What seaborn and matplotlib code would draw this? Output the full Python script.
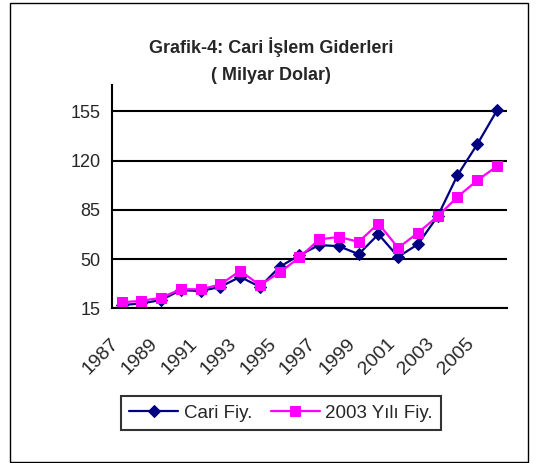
import pandas as pd
import matplotlib
matplotlib.use("Agg")
import matplotlib.pyplot as plt
import matplotlib.transforms as mtransforms
import seaborn as sns
from matplotlib.patches import Rectangle

years = list(range(1987, 2007))
cari = [17.3, 18.5, 20.9, 28.0, 27.3, 30.3, 37.4, 30.3, 44.5, 52.8,
        60.0, 59.2, 53.5, 67.7, 51.6, 60.6, 80.5, 109.6, 131.6, 155.7]
sabit = [19.3, 20.4, 22.5, 28.7, 28.5, 32.0, 41.7, 31.5, 40.5, 51.2,
         64.0, 65.8, 62.3, 75.3, 58.0, 68.7, 80.5, 94.2, 106.0, 116.0]
y_ticks = [15, 50, 85, 120, 155]
series_names = ["Cari Fiy.", "2003 Yılı Fiy."]

df = pd.DataFrame({"yil": years, "idx": range(len(years)),
                   series_names[0]: cari, series_names[1]: sabit})
long_df = df.melt(id_vars=["yil", "idx"], var_name="seri", value_name="deger")

sns.set_style("white")
plt.rcParams['font.family'] = ['Liberation Sans', 'DejaVu Sans']

fig = plt.figure(figsize=(5.45, 4.63), dpi=100)
ax = fig.add_axes([0.205, 0.334, 0.725, 0.483])

sns.lineplot(data=long_df[long_df.seri == series_names[0]], x="idx", y="deger",
             color="#000080", marker="D", markersize=6, linewidth=1.6,
             markeredgecolor="#000080", label=series_names[0], ax=ax)
sns.lineplot(data=long_df[long_df.seri == series_names[1]], x="idx", y="deger",
             color="#FF00FF", marker="s", markersize=7, linewidth=1.6,
             markeredgecolor="#FF00FF", label=series_names[1], ax=ax)

ax.set_xlim(-0.5, len(years) - 0.5)
ax.set_ylim(15, 174)
ax.set_yticks(y_ticks)
ax.set_yticklabels([str(v) for v in y_ticks], fontsize=13)
ax.yaxis.grid(True, color="black", linewidth=1.5)
ax.set_axisbelow(True)

# category boundaries get the tick marks, labels sit at every other category
ax.set_xticks([i - 0.5 for i in range(len(years) + 1)])
ax.set_xticklabels([])
ax.set_xticks(list(range(0, len(years), 2)), minor=True)
ax.set_xticklabels([str(years[i]) for i in range(0, len(years), 2)], minor=True,
                   rotation=45, ha="right", va="top", rotation_mode="anchor",
                   fontsize=14)
ax.tick_params(axis="x", which="major", direction="out", length=7, width=1.5, color="black")
ax.tick_params(axis="x", which="minor", length=0, pad=13)
ax.tick_params(axis="y", direction="out", length=5, width=1.5, color="black", pad=3)
shift = mtransforms.ScaledTranslation(-0.12, -0.09, fig.dpi_scale_trans)
for lbl in ax.get_xticklabels(minor=True):
    lbl.set_transform(lbl.get_transform() + shift)
ax.set_xlabel("")
ax.set_ylabel("")

for side in ["top", "right"]:
    ax.spines[side].set_visible(False)
for side in ["left", "bottom"]:
    ax.spines[side].set_color("black")
    ax.spines[side].set_linewidth(1.5)

fig.text(0.497, 0.898, "Grafik-4: Cari İşlem Giderleri", ha="center", va="center",
         fontsize=13, fontweight="bold")
fig.text(0.497, 0.838, "( Milyar Dolar)", ha="center", va="center",
         fontsize=13, fontweight="bold")

ax.get_legend().remove()
handles, labels = ax.get_legend_handles_labels()
leg = fig.legend(handles, labels, loc="center", bbox_to_anchor=(0.516, 0.108), ncol=2,
                 fontsize=13.5, frameon=True, fancybox=False, handlelength=2.6,
                 handletextpad=0.3, columnspacing=1.0, borderpad=0.45)
leg.get_frame().set_edgecolor("black")
leg.get_frame().set_linewidth(1.5)

fig.patches.append(Rectangle((10 / 545, 1 / 463), 518 / 545, 459 / 463,
                             transform=fig.transFigure, fill=False,
                             edgecolor="black", linewidth=1))

fig.savefig("out.png", dpi=100)
